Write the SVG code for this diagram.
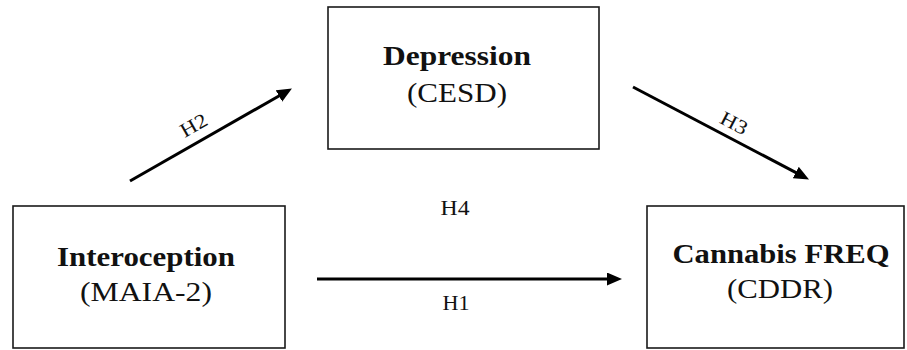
<svg xmlns="http://www.w3.org/2000/svg" width="907" height="350" viewBox="0 0 907 350">
<style>
.box{fill:#fff;stroke:#1a1a1a;stroke-width:1.6}
.t{font-family:"Liberation Serif","Times New Roman",serif;font-size:27px;fill:#111;text-anchor:middle}
.b{font-weight:bold}
.lbl{font-family:"Liberation Serif","Times New Roman",serif;font-size:20px;fill:#111;text-anchor:middle}
.edge{stroke:#000;stroke-width:3;fill:none}
</style>
<defs>
<marker id="ah" markerUnits="userSpaceOnUse" markerWidth="16" markerHeight="14" refX="4" refY="6.5" orient="auto">
<path d="M0,0 L15,6.5 L0,13 Z" fill="#000"/>
</marker>
</defs>
<rect width="907" height="350" fill="#fff"/>
<g id="connectors">
<path class="edge" d="M130,181 L282.4,94" marker-end="url(#ah)"/>
<path class="edge" d="M633,87 L799.3,174.4" marker-end="url(#ah)"/>
<path class="edge" d="M317,279 L611,279" marker-end="url(#ah)"/>
<text class="lbl" x="197" y="131" textLength="28" lengthAdjust="spacingAndGlyphs" transform="rotate(-29.7 197 131)">H2</text>
<text class="lbl" x="731" y="129" textLength="28" lengthAdjust="spacingAndGlyphs" transform="rotate(27.7 731 129)">H3</text>
<text class="lbl" x="455" y="215" textLength="29" lengthAdjust="spacingAndGlyphs">H4</text>
<text class="lbl" x="456" y="310" textLength="27" lengthAdjust="spacingAndGlyphs">H1</text>
</g>
<g id="interoception">
<rect class="box" x="13" y="206" width="272" height="142"/>
<text class="t b" x="146" y="266" textLength="178" lengthAdjust="spacingAndGlyphs">Interoception</text>
<text class="t" x="146" y="301" textLength="132" lengthAdjust="spacingAndGlyphs">(MAIA-2)</text>
</g>
<g id="depression">
<rect class="box" x="328" y="7" width="271" height="142"/>
<text class="t b" x="457" y="65" textLength="148" lengthAdjust="spacingAndGlyphs">Depression</text>
<text class="t" x="457" y="102" textLength="100" lengthAdjust="spacingAndGlyphs">(CESD)</text>
</g>
<g id="cannabis">
<rect class="box" x="647" y="206" width="257" height="142"/>
<text class="t b" x="781" y="263" textLength="217" lengthAdjust="spacingAndGlyphs">Cannabis FREQ</text>
<text class="t" x="780" y="298" textLength="106" lengthAdjust="spacingAndGlyphs">(CDDR)</text>
</g>
</svg>
